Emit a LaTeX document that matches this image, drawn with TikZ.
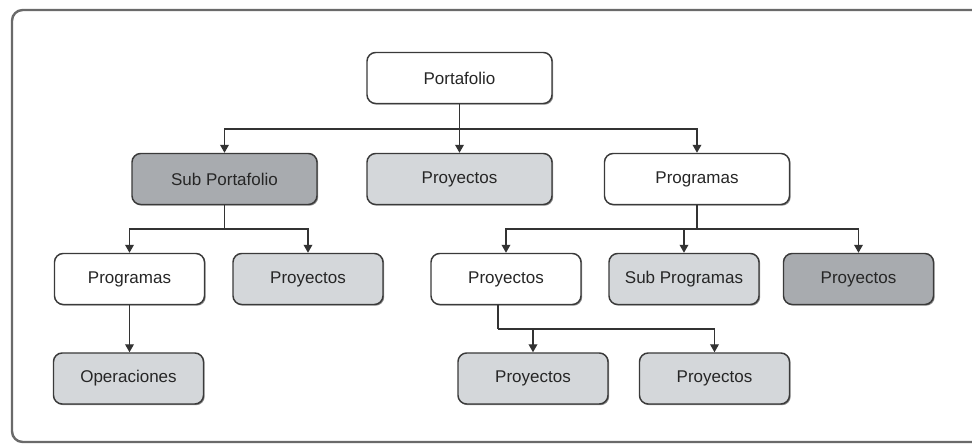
\documentclass[tikz,border=0pt]{standalone}
\usepackage{fontspec}
\setmainfont{Liberation Sans}
\usetikzlibrary{arrows.meta,shadows}
\definecolor{boxline}{HTML}{3A3A3A}
\definecolor{linegray}{HTML}{333333}
\definecolor{textgray}{HTML}{262626}
\definecolor{lightfill}{HTML}{D4D7DA}
\definecolor{darkfill}{HTML}{A8ABAF}
\definecolor{framegray}{HTML}{6A6A6A}
\begin{document}
\begin{tikzpicture}[x=0.75pt,y=-0.75pt,
  box/.style={draw=boxline, line width=1.1pt, rounded corners=6.5pt,
    minimum height=38.25pt, text=textgray,
    font=\fontsize{12.75}{15}\selectfont,
    drop shadow={shadow xshift=0.9pt, shadow yshift=-0.9pt, opacity=0.45, fill=black}},
  wide/.style={box, minimum width=138.75pt},
  narrow/.style={box, minimum width=112.5pt},
  plainbox/.style={fill=white},
  lightbox/.style={fill=lightfill},
  darkbox/.style={fill=darkfill},
  link/.style={draw=linegray, line width=1.1pt},
  arr/.style={link, -{Triangle[length=6pt,width=6.5pt]}}]

\useasboundingbox (0,0) rectangle (972,445);
\clip (0,0) rectangle (972,445);

% outer frame
\draw[framegray, line width=1.8pt, rounded corners=8pt] (12,10) rectangle (990,442);

% boxes
\node[wide,plainbox]   (port)    at (459.5,78)   {Portafolio};
\node[wide,darkbox]    (subport) at (224.5,179)  {Sub Portafolio};
\node[wide,lightbox]   (proy)    at (459.5,179)  {Proyectos};
\node[wide,plainbox]   (progr)   at (697,179)    {Programas};
\node[narrow,plainbox] (progl)   at (129.5,279)  {Programas};
\node[narrow,lightbox] (proyl)   at (308,279)    {Proyectos};
\node[narrow,plainbox] (proyA)   at (506,279)    {Proyectos};
\node[narrow,lightbox] (subprog) at (684,279)    {Sub Programas};
\node[narrow,darkbox]  (proyB)   at (858.5,279)  {Proyectos};
\node[narrow,lightbox] (oper)    at (128.5,378.5){Operaciones};
\node[narrow,lightbox] (proyC)   at (533,378.5)  {Proyectos};
\node[narrow,lightbox] (proyD)   at (714.5,378.5){Proyectos};

% bus levels
\coordinate (bus1) at (0,129);
\coordinate (bus2) at (0,229);
\coordinate (bus3) at (0,329);

% Portafolio
\draw[arr] (port.south) -- (proy.north);
\draw[arr] (port.south |- bus1) -| (subport.north);
\draw[arr] (port.south |- bus1) -| (progr.north);

% Sub Portafolio
\draw[link] (subport.south) -- (subport.south |- bus2);
\draw[arr] (subport.south |- bus2) -| (progl.north);
\draw[arr] (subport.south |- bus2) -| (proyl.north);
\draw[arr] (progl.south) -- (progl.south |- oper.north);

% Programas
\draw[link] (progr.south) -- (progr.south |- bus2);
\draw[arr] (progr.south |- bus2) -| (proyA.north);
\draw[arr] (progr.south |- bus2) -| (subprog.north);
\draw[arr] (progr.south |- bus2) -| (proyB.north);

% Proyectos under Programas
\path ([xshift=-6pt]proyA.south) coordinate (a3);
\draw[link] (a3) -- (a3 |- bus3);
\draw[arr] (a3 |- bus3) -| (proyC.north);
\draw[arr] (a3 |- bus3) -| (proyD.north);
\end{tikzpicture}
\end{document}
